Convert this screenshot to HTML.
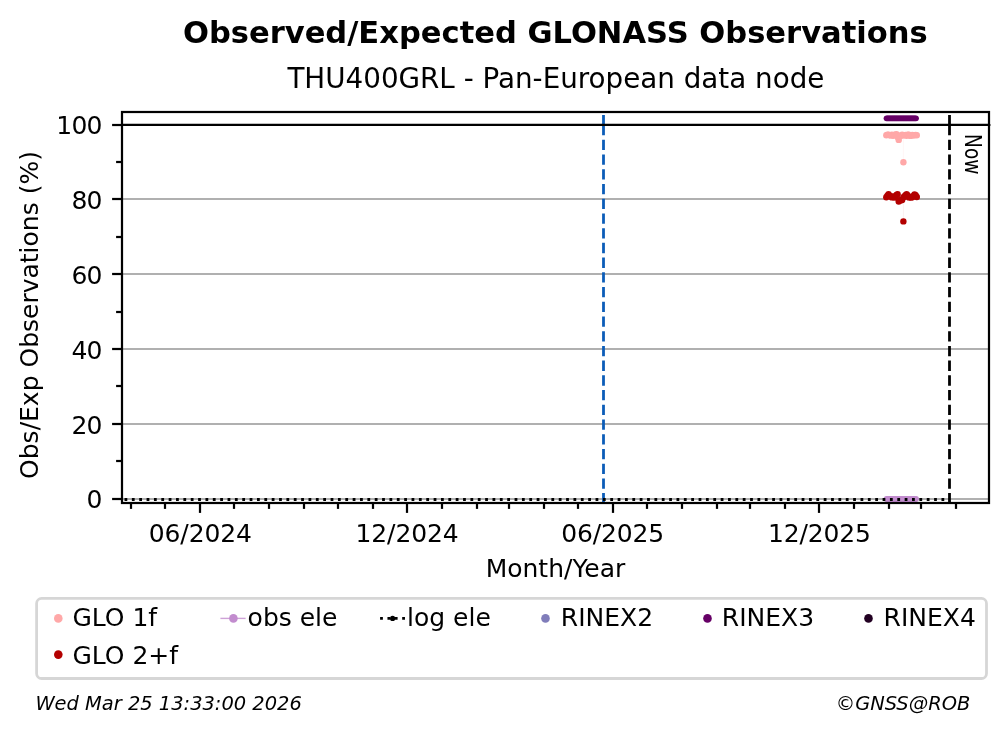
<!DOCTYPE html>
<html lang="en"><head><meta charset="utf-8"><title>Observed/Expected GLONASS Observations</title>
<style>html,body{margin:0;padding:0;background:#fff}svg{display:block}text{font-family:"DejaVu Sans","Liberation Sans",sans-serif;fill:#000}g.t{filter:grayscale(1)}</style>
</head><body>
<svg width="1008" height="734" viewBox="0 0 1008 734">
<rect width="1008" height="734" fill="#fff"/>
<defs><clipPath id="ax"><rect x="122.0" y="112.0" width="867.0" height="391.0"/></clipPath></defs>
<g stroke="#b0b0b0" stroke-width="2.22" fill="none">
<line x1="122.0" x2="989.0" y1="499" y2="499"/>
<line x1="122.0" x2="989.0" y1="424" y2="424"/>
<line x1="122.0" x2="989.0" y1="349" y2="349"/>
<line x1="122.0" x2="989.0" y1="274" y2="274"/>
<line x1="122.0" x2="989.0" y1="199" y2="199"/>
<line x1="122.0" x2="989.0" y1="125" y2="125"/>
</g>
<g clip-path="url(#ax)">
<g fill="#c28cce">
<circle cx="886.60" cy="499" r="3.0"/>
<circle cx="887.73" cy="499" r="3.0"/>
<circle cx="888.86" cy="499" r="3.0"/>
<circle cx="889.99" cy="499" r="3.0"/>
<circle cx="891.12" cy="499" r="3.0"/>
<circle cx="892.25" cy="499" r="3.0"/>
<circle cx="893.38" cy="499" r="3.0"/>
<circle cx="894.50" cy="499" r="3.0"/>
<circle cx="895.63" cy="499" r="3.0"/>
<circle cx="896.76" cy="499" r="3.0"/>
<circle cx="897.89" cy="499" r="3.0"/>
<circle cx="899.02" cy="499" r="3.0"/>
<circle cx="900.15" cy="499" r="3.0"/>
<circle cx="901.28" cy="499" r="3.0"/>
<circle cx="902.41" cy="499" r="3.0"/>
<circle cx="903.54" cy="499" r="3.0"/>
<circle cx="904.67" cy="499" r="3.0"/>
<circle cx="905.80" cy="499" r="3.0"/>
<circle cx="906.93" cy="499" r="3.0"/>
<circle cx="908.05" cy="499" r="3.0"/>
<circle cx="909.18" cy="499" r="3.0"/>
<circle cx="910.31" cy="499" r="3.0"/>
<circle cx="911.44" cy="499" r="3.0"/>
<circle cx="912.57" cy="499" r="3.0"/>
<circle cx="913.70" cy="499" r="3.0"/>
<circle cx="914.83" cy="499" r="3.0"/>
<circle cx="915.96" cy="499" r="3.0"/>
</g>
<path d="M903.4 136 L903.4 162.2" stroke="#ffa8a8" stroke-width="0.5" opacity="0.2" fill="none"/>
<path d="M903.4 199 L903.4 221.4" stroke="#b30000" stroke-width="0.5" opacity="0.12" fill="none"/>
<g fill="#ffa8a8">
<circle cx="886.30" cy="135.20" r="3.2"/>
<circle cx="887.43" cy="134.60" r="3.2"/>
<circle cx="888.56" cy="134.60" r="3.2"/>
<circle cx="889.69" cy="135.20" r="3.2"/>
<circle cx="890.82" cy="135.40" r="3.2"/>
<circle cx="891.95" cy="134.60" r="3.2"/>
<circle cx="893.08" cy="135.70" r="3.2"/>
<circle cx="894.20" cy="134.90" r="3.2"/>
<circle cx="895.33" cy="134.60" r="3.2"/>
<circle cx="896.46" cy="134.30" r="3.2"/>
<circle cx="897.59" cy="137.00" r="3.2"/>
<circle cx="898.72" cy="139.90" r="3.2"/>
<circle cx="899.85" cy="136.60" r="3.2"/>
<circle cx="900.98" cy="135.40" r="3.2"/>
<circle cx="902.11" cy="134.60" r="3.2"/>
<circle cx="903.24" cy="135.20" r="3.2"/>
<circle cx="904.37" cy="135.20" r="3.2"/>
<circle cx="905.50" cy="134.90" r="3.2"/>
<circle cx="906.63" cy="135.70" r="3.2"/>
<circle cx="907.75" cy="134.60" r="3.2"/>
<circle cx="908.88" cy="134.60" r="3.2"/>
<circle cx="910.01" cy="135.70" r="3.2"/>
<circle cx="911.14" cy="135.70" r="3.2"/>
<circle cx="912.27" cy="134.90" r="3.2"/>
<circle cx="913.40" cy="135.20" r="3.2"/>
<circle cx="914.53" cy="135.20" r="3.2"/>
<circle cx="915.66" cy="134.90" r="3.2"/>
<circle cx="916.79" cy="135.20" r="3.2"/>
<circle cx="903.4" cy="162.2" r="3.2"/>
</g>
<g fill="#b30000">
<circle cx="886.30" cy="197.20" r="3.2"/>
<circle cx="887.43" cy="195.60" r="3.2"/>
<circle cx="888.56" cy="194.30" r="3.2"/>
<circle cx="889.69" cy="196.00" r="3.2"/>
<circle cx="890.82" cy="196.50" r="3.2"/>
<circle cx="891.95" cy="197.40" r="3.2"/>
<circle cx="893.08" cy="196.50" r="3.2"/>
<circle cx="894.20" cy="197.40" r="3.2"/>
<circle cx="895.33" cy="197.20" r="3.2"/>
<circle cx="896.46" cy="195.00" r="3.2"/>
<circle cx="897.59" cy="194.30" r="3.2"/>
<circle cx="898.72" cy="201.50" r="3.2"/>
<circle cx="899.85" cy="200.20" r="3.2"/>
<circle cx="900.98" cy="200.20" r="3.2"/>
<circle cx="902.11" cy="200.00" r="3.2"/>
<circle cx="903.24" cy="197.50" r="3.2"/>
<circle cx="904.37" cy="196.50" r="3.2"/>
<circle cx="905.50" cy="195.20" r="3.2"/>
<circle cx="906.63" cy="194.30" r="3.2"/>
<circle cx="907.75" cy="195.50" r="3.2"/>
<circle cx="908.88" cy="197.40" r="3.2"/>
<circle cx="910.01" cy="197.20" r="3.2"/>
<circle cx="911.14" cy="197.40" r="3.2"/>
<circle cx="912.27" cy="197.20" r="3.2"/>
<circle cx="913.40" cy="196.00" r="3.2"/>
<circle cx="914.53" cy="194.40" r="3.2"/>
<circle cx="915.66" cy="195.30" r="3.2"/>
<circle cx="916.79" cy="197.00" r="3.2"/>
<circle cx="903.4" cy="221.4" r="3.2"/>
</g>
<g fill="#660066">
<circle cx="886.60" cy="118.35" r="2.95"/>
<circle cx="887.73" cy="118.35" r="2.95"/>
<circle cx="888.86" cy="118.35" r="2.95"/>
<circle cx="889.99" cy="118.35" r="2.95"/>
<circle cx="891.12" cy="118.35" r="2.95"/>
<circle cx="892.25" cy="118.35" r="2.95"/>
<circle cx="893.38" cy="118.35" r="2.95"/>
<circle cx="894.50" cy="118.35" r="2.95"/>
<circle cx="895.63" cy="118.35" r="2.95"/>
<circle cx="896.76" cy="118.35" r="2.95"/>
<circle cx="897.89" cy="118.35" r="2.95"/>
<circle cx="899.02" cy="118.35" r="2.95"/>
<circle cx="900.15" cy="118.35" r="2.95"/>
<circle cx="901.28" cy="118.35" r="2.95"/>
<circle cx="902.41" cy="118.35" r="2.95"/>
<circle cx="903.54" cy="118.35" r="2.95"/>
<circle cx="904.67" cy="118.35" r="2.95"/>
<circle cx="905.80" cy="118.35" r="2.95"/>
<circle cx="906.93" cy="118.35" r="2.95"/>
<circle cx="908.05" cy="118.35" r="2.95"/>
<circle cx="909.18" cy="118.35" r="2.95"/>
<circle cx="910.31" cy="118.35" r="2.95"/>
<circle cx="911.44" cy="118.35" r="2.95"/>
<circle cx="912.57" cy="118.35" r="2.95"/>
<circle cx="913.70" cy="118.35" r="2.95"/>
<circle cx="914.83" cy="118.35" r="2.95"/>
<circle cx="915.96" cy="118.35" r="2.95"/>
</g>
<path d="M603.5 115.00V135.30 M603.5 139.82V150.12 M603.5 154.54V164.84 M603.5 169.26V179.56 M603.5 183.98V194.28 M603.5 198.70V209.00 M603.5 213.42V223.72 M603.5 228.14V238.44 M603.5 242.86V253.16 M603.5 257.58V267.88 M603.5 272.30V282.60 M603.5 287.02V297.32 M603.5 301.74V312.04 M603.5 316.46V326.76 M603.5 331.18V341.48 M603.5 345.90V356.20 M603.5 360.62V370.92 M603.5 375.34V385.64 M603.5 390.06V400.36 M603.5 404.78V415.08 M603.5 419.50V429.80 M603.5 434.22V444.52 M603.5 448.94V459.24 M603.5 463.66V473.96 M603.5 478.38V488.68 M603.5 493.10V503.00" stroke="#0b5cb8" stroke-width="2.78" fill="none"/>
<line x1="122.0" x2="989.0" y1="124.9" y2="124.9" stroke="#000" stroke-width="2.22"/>
<line x1="124.51" x2="949.5" y1="499.5" y2="499.5" stroke="#000" stroke-width="2.78" stroke-dasharray="2.78 4.58"/>
<path d="M949.5 115.00V135.30 M949.5 139.82V150.12 M949.5 154.54V164.84 M949.5 169.26V179.56 M949.5 183.98V194.28 M949.5 198.70V209.00 M949.5 213.42V223.72 M949.5 228.14V238.44 M949.5 242.86V253.16 M949.5 257.58V267.88 M949.5 272.30V282.60 M949.5 287.02V297.32 M949.5 301.74V312.04 M949.5 316.46V326.76 M949.5 331.18V341.48 M949.5 345.90V356.20 M949.5 360.62V370.92 M949.5 375.34V385.64 M949.5 390.06V400.36 M949.5 404.78V415.08 M949.5 419.50V429.80 M949.5 434.22V444.52 M949.5 448.94V459.24 M949.5 463.66V473.96 M949.5 478.38V488.68 M949.5 493.10V503.00" stroke="#000" stroke-width="2.78" fill="none"/>
</g>
<rect x="122.0" y="112.0" width="867.0" height="391.0" fill="none" stroke="#000" stroke-width="2.22" stroke-linejoin="miter"/>
<line x1="989.0" x2="990.8" y1="124.9" y2="124.9" stroke="#000" stroke-width="2.0" opacity="0.5"/>
<g stroke="#000" stroke-width="2.22">
<line x1="112.10" x2="122.0" y1="499" y2="499"/>
<line x1="112.10" x2="122.0" y1="424" y2="424"/>
<line x1="112.10" x2="122.0" y1="349" y2="349"/>
<line x1="112.10" x2="122.0" y1="274" y2="274"/>
<line x1="112.10" x2="122.0" y1="199" y2="199"/>
<line x1="112.10" x2="122.0" y1="125" y2="125"/>
<line x1="116.10" x2="122.0" y1="461" y2="461"/>
<line x1="116.10" x2="122.0" y1="386" y2="386"/>
<line x1="116.10" x2="122.0" y1="312" y2="312"/>
<line x1="116.10" x2="122.0" y1="237" y2="237"/>
<line x1="116.10" x2="122.0" y1="162" y2="162"/>
<line x1="131" x2="131" y1="503.0" y2="508.90"/>
<line x1="165" x2="165" y1="503.0" y2="508.90"/>
<line x1="200" x2="200" y1="503.0" y2="512.90"/>
<line x1="234" x2="234" y1="503.0" y2="508.90"/>
<line x1="269" x2="269" y1="503.0" y2="508.90"/>
<line x1="304" x2="304" y1="503.0" y2="508.90"/>
<line x1="338" x2="338" y1="503.0" y2="508.90"/>
<line x1="373" x2="373" y1="503.0" y2="508.90"/>
<line x1="407" x2="407" y1="503.0" y2="512.90"/>
<line x1="442" x2="442" y1="503.0" y2="508.90"/>
<line x1="477" x2="477" y1="503.0" y2="508.90"/>
<line x1="509" x2="509" y1="503.0" y2="508.90"/>
<line x1="544" x2="544" y1="503.0" y2="508.90"/>
<line x1="578" x2="578" y1="503.0" y2="508.90"/>
<line x1="613" x2="613" y1="503.0" y2="512.90"/>
<line x1="647" x2="647" y1="503.0" y2="508.90"/>
<line x1="682" x2="682" y1="503.0" y2="508.90"/>
<line x1="717" x2="717" y1="503.0" y2="508.90"/>
<line x1="750" x2="750" y1="503.0" y2="508.90"/>
<line x1="785" x2="785" y1="503.0" y2="508.90"/>
<line x1="819" x2="819" y1="503.0" y2="512.90"/>
<line x1="854" x2="854" y1="503.0" y2="508.90"/>
<line x1="889" x2="889" y1="503.0" y2="508.90"/>
<line x1="921" x2="921" y1="503.0" y2="508.90"/>
<line x1="956" x2="956" y1="503.0" y2="508.90"/>
</g>
<rect x="36.6" y="598.4" width="949.9" height="80.1" rx="5" ry="5" fill="#fff" fill-opacity="0.8" stroke="#d6d6d6" stroke-width="2.78"/>
<circle cx="58.3" cy="618.4" r="4.3" fill="#ffa8a8"/>
<circle cx="58.3" cy="654.6" r="4.3" fill="#b30000"/>
<line x1="220.4" x2="245.6" y1="618.4" y2="618.4" stroke="#c28cce" stroke-width="1.4" opacity="0.8"/>
<circle cx="233.4" cy="618.4" r="4.3" fill="#c28cce"/>
<line x1="380.1" x2="405.6" y1="618.4" y2="618.4" stroke="#000" stroke-width="2.78" stroke-dasharray="2.78 4.58"/>
<circle cx="392.6" cy="618.4" r="2.6" fill="#000"/>
<circle cx="545.5" cy="618.4" r="4.3" fill="#807dba"/>
<circle cx="707.5" cy="618.4" r="4.3" fill="#660066"/>
<circle cx="868.5" cy="618.4" r="4.3" fill="#220022"/>
<g class="t">
<g font-size="25px">
<text x="101.7" y="508.3" text-anchor="end" letter-spacing="-0.8">0</text>
<text x="101.7" y="433.5" text-anchor="end" letter-spacing="-0.8">20</text>
<text x="101.7" y="358.7" text-anchor="end" letter-spacing="-0.8">40</text>
<text x="101.7" y="283.9" text-anchor="end" letter-spacing="-0.8">60</text>
<text x="101.7" y="209.1" text-anchor="end" letter-spacing="-0.8">80</text>
<text x="101.7" y="134.3" text-anchor="end" letter-spacing="-0.8">100</text>
<text x="200.25" y="541.5" text-anchor="middle" letter-spacing="-0.15">06/2024</text>
<text x="407.00" y="541.5" text-anchor="middle" letter-spacing="-0.15">12/2024</text>
<text x="612.63" y="541.5" text-anchor="middle" letter-spacing="-0.15">06/2025</text>
<text x="819.38" y="541.5" text-anchor="middle" letter-spacing="-0.15">12/2025</text>
<text x="555.5" y="577.3" text-anchor="middle">Month/Year</text>
<text transform="translate(38.2 315) rotate(-90)" text-anchor="middle">Obs/Exp Observations (%)</text>
<text x="72.4" y="626.0">GLO 1f</text>
<text x="72.4" y="663.6">GLO 2+f</text>
<text x="247.6" y="626.0">obs ele</text>
<text x="407.0" y="626.0">log ele</text>
<text x="560.8" y="626.0">RINEX2</text>
<text x="721.8" y="626.0">RINEX3</text>
<text x="883.6" y="626.0">RINEX4</text>
</g>
<text x="555.3" y="42.8" text-anchor="middle" font-size="30.56px" font-weight="bold">Observed/Expected GLONASS Observations</text>
<text x="555.9" y="88.4" text-anchor="middle" font-size="27.78px">THU400GRL - Pan-European data node</text>
<text transform="translate(965.2 134.0) rotate(90) scale(0.81 1)" font-size="23.0px">Now</text>
<g font-size="19.44px" font-style="italic">
<text x="35.4" y="709.5">Wed Mar 25 13:33:00 2026</text>
<text x="970.3" y="709.5" text-anchor="end">©GNSS@ROB</text>
</g>
</g>
</svg></body></html>
